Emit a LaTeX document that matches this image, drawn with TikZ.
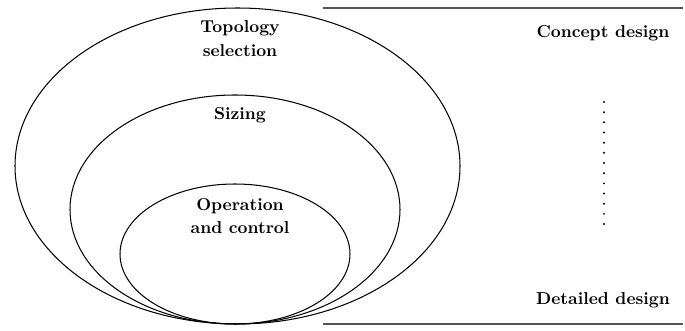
\documentclass[tikz,border=0pt]{standalone}
\usepackage{tikz}
\usetikzlibrary{shapes.geometric,positioning}
\definecolor{ink}{HTML}{000000}
\definecolor{rulegray}{HTML}{555555}

\begin{document}
\begin{tikzpicture}[x=0.58pt,y=-0.58pt,
    level/.style={ellipse,draw=ink,line width=0.6pt,inner sep=0pt},
    tag/.style={font=\bfseries,align=center,text=ink},
    stage/.style={font=\bfseries,text=ink}]
  \useasboundingbox (0,0) rectangle (685,331);
  % nested design levels
  \node[level,minimum width=445*0.58pt,minimum height=316*0.58pt] (topo) at (237.5,166) {};
  \node[level,minimum width=330*0.58pt,minimum height=229*0.58pt] (size) at (235,209.5) {};
  \node[level,minimum width=230*0.58pt,minimum height=140*0.58pt] (oper) at (235,254) {};
  \node[tag] (topolab) at (240,38.5) {Topology\\[1.5pt]selection};
  \node[tag] (sizelab) at (240,115) {Sizing};
  \node[tag] (operlab) at (240,216) {Operation\\[1.5pt]and control};

  % design stages
  \coordinate (topl) at (323,8);
  \coordinate (topr) at (683,8);
  \coordinate (botl) at (323,324);
  \coordinate (botr) at (683,324);
  \draw[rulegray,line width=1pt] (topl)--(topr);
  \draw[rulegray,line width=1pt] (botl)--(botr);
  \node[stage] (concept) at (603,33) {Concept design};
  \node[stage] (detail) at (603,300) {Detailed design};
  \foreach \i in {0,...,12} {
    \fill[ink] (604,{102+10.17*\i}) circle (1.1);
  }
\end{tikzpicture}
\end{document}
